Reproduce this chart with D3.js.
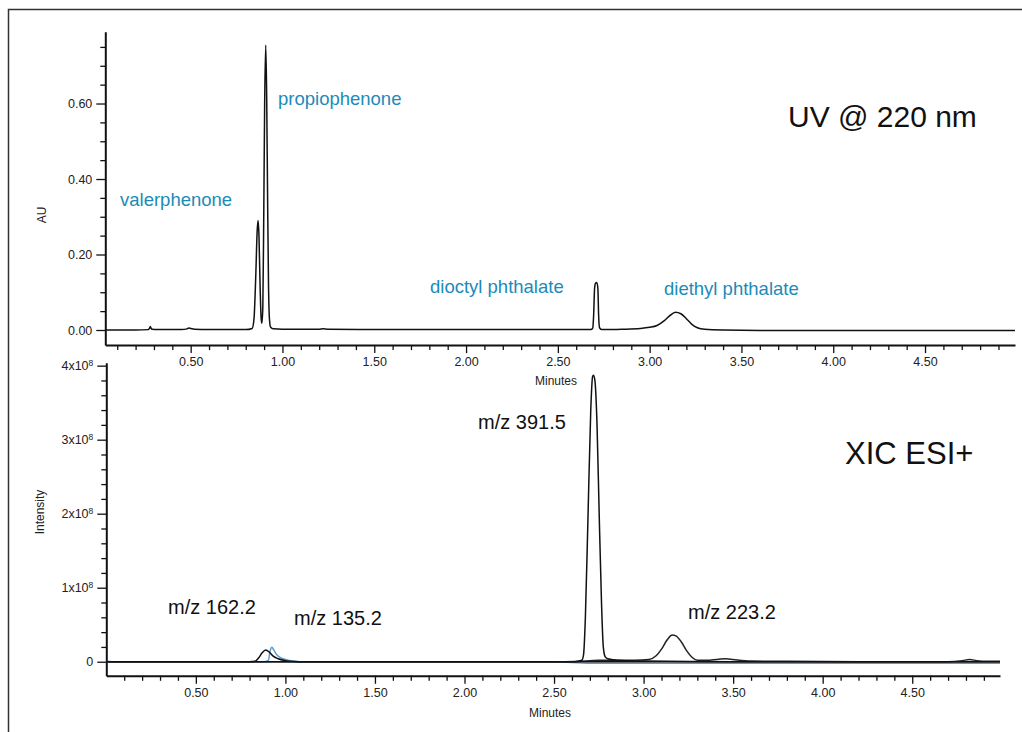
<!DOCTYPE html>
<html>
<head>
<meta charset="utf-8">
<script src="https://cdn.jsdelivr.net/npm/d3@7"></script>
<style>
  html, body { margin: 0; padding: 0; background: #fff; }
  svg { display: block; font-family: "Liberation Sans", Arial, sans-serif; }
  .tick text { fill: #222; font-size: 12.5px; }
  .axis path, .axis line { stroke: #111; }
</style>
</head>
<body>
<div id="chart"></div>
<script>
// UV trace, 220 nm (minutes / AU)
const uvTime = [0.035, 0.2, 0.27, 0.275, 0.28, 0.285, 0.29, 0.32, 0.45, 0.48, 0.49, 0.5, 0.52, 0.6, 0.8,
  0.835, 0.845, 0.855, 0.862, 0.867, 0.872, 0.878, 0.884, 0.888, 0.893, 0.898, 0.903, 0.909, 0.914, 0.919,
  0.924, 0.929, 0.935, 0.95, 1.0, 1.2, 1.22, 1.25, 1.5, 2.0, 2.5, 2.68, 2.69, 2.695, 2.7, 2.705, 2.712,
  2.718, 2.722, 2.727, 2.74, 2.85, 2.95, 3.0, 3.04, 3.08, 3.11, 3.14, 3.17, 3.2, 3.23, 3.26, 3.3, 3.4,
  3.6, 4.0, 4.5, 4.99];
const uvAU = [0, 0, 0.001, 0.004, 0.009, 0.004, 0.002, 0.001, 0.001, 0.003, 0.005, 0.004, 0.002, 0.001, 0.001,
  0.004, 0.03, 0.15, 0.26, 0.29, 0.25, 0.12, 0.03, 0.018, 0.06, 0.3, 0.6, 0.755, 0.62, 0.35,
  0.12, 0.03, 0.008, 0.003, 0.002, 0.002, 0.003, 0.002, 0.001, 0.001, 0.001, 0.001, 0.005, 0.04, 0.11, 0.124, 0.126,
  0.11, 0.04, 0.006, 0.001, 0.002, 0.004, 0.007, 0.012, 0.025, 0.038, 0.047, 0.043, 0.03, 0.015, 0.006, 0.002, 0,
  -0.001, -0.001, -0.001, -0.001];

// XIC ESI+ traces (minutes / intensity in units of 1e8)
const mz162Time = [0, 0.02, 0.5, 0.8, 0.83, 0.85, 0.87, 0.89, 0.91, 0.93, 0.96, 1.0, 1.05, 1.1, 2.0, 2.6, 3.0, 4.0, 4.99];
const mz162Int = [0.012, 0, 0, 0, 0.005, 0.05, 0.12, 0.158, 0.13, 0.08, 0.04, 0.015, 0.003, 0, 0, 0, 0, 0, 0];

const mz135Time = [0, 0.03, 0.5, 0.88, 0.905, 0.915, 0.925, 0.935, 0.95, 0.97, 1.0, 1.04, 1.08, 2.0, 2.5, 2.7, 3.0, 4.0, 4.99];
const mz135Int = [0.006, 0, 0, 0, 0.02, 0.15, 0.195, 0.16, 0.1, 0.06, 0.03, 0.01, 0, 0, 0, -0.02, -0.02, -0.02, -0.02];

const mz391Time = [0, 2.5, 2.62, 2.655, 2.665, 2.675, 2.69, 2.705, 2.715, 2.72, 2.728, 2.74, 2.752, 2.765, 2.775,
  2.785, 2.8, 2.85, 2.95, 3.0, 3.5, 4.99];
const mz391Int = [0, 0, 0.003, 0.02, 0.1, 0.6, 2.0, 3.4, 3.85, 3.87, 3.8, 3.2, 2.0, 0.8, 0.2,
  0.07, 0.04, 0.02, 0.01, 0.01, 0, 0];

const mz223Time = [0, 2.6, 2.75, 2.95, 3.03, 3.07, 3.1, 3.13, 3.16, 3.18, 3.21, 3.24, 3.27, 3.3, 3.35, 3.42, 3.46, 3.5,
  3.6, 3.8, 4.2, 4.7, 4.78, 4.82, 4.86, 4.92, 4.99];
const mz223Int = [0, 0, 0.02, 0.02, 0.03, 0.08, 0.17, 0.29, 0.36, 0.35, 0.27, 0.15, 0.06, 0.02, 0.02, 0.035, 0.04, 0.03,
  0.01, 0.005, 0, 0, 0.015, 0.03, 0.015, 0.005, 0.005];

// tick values and labels
const xMajor = [0.5, 1.0, 1.5, 2.0, 2.5, 3.0, 3.5, 4.0, 4.5];
const xMinor = [0.1, 0.2, 0.3, 0.4, 0.6, 0.7, 0.8, 0.9, 1.1, 1.2, 1.3, 1.4, 1.6, 1.7, 1.8, 1.9, 2.1, 2.2, 2.3, 2.4,
  2.6, 2.7, 2.8, 2.9, 3.1, 3.2, 3.3, 3.4, 3.6, 3.7, 3.8, 3.9, 4.1, 4.2, 4.3, 4.4, 4.6, 4.7, 4.8, 4.9];
const uvMajor = [0, 0.2, 0.4, 0.6];
const uvMinor = [0.05, 0.1, 0.15, 0.25, 0.3, 0.35, 0.45, 0.5, 0.55, 0.65, 0.7, 0.75];
const xicMajor = [0, 1, 2, 3, 4];
const xicMinor = [0.2, 0.4, 0.6, 0.8, 1.2, 1.4, 1.6, 1.8, 2.2, 2.4, 2.6, 2.8, 3.2, 3.4, 3.6, 3.8];

const uvLabels = [
  {text: 'valerphenone', x: 120, y: 206},
  {text: 'propiophenone', x: 278, y: 105},
  {text: 'dioctyl phthalate', x: 430, y: 293},
  {text: 'diethyl phthalate', x: 664, y: 295}
];
const xicLabels = [
  {text: 'm/z 391.5', x: 478, y: 429},
  {text: 'm/z 162.2', x: 168, y: 614},
  {text: 'm/z 135.2', x: 294, y: 625},
  {text: 'm/z 223.2', x: 688, y: 619}
];

const W = 1022, H = 732;
const svg = d3.select('#chart').append('svg').attr('width', W).attr('height', H);

// outer frame
svg.append('rect').attr('x', 8.5).attr('y', 9.5).attr('width', 1040).attr('height', 800)
  .attr('fill', 'none').attr('stroke', '#333').attr('stroke-width', 1.5);

const zip = (t, v) => t.map((d, i) => [d, v[i]]);

const drawPanel = (p) => {
  const g = svg.append('g');
  const x = d3.scaleLinear().domain(p.xDomain).range(p.xRange);
  const y = d3.scaleLinear().domain(p.yDomain).range(p.yRange);

  // x axis
  g.append('g').attr('class', 'axis')
    .attr('transform', `translate(0,${p.yRange[0]})`)
    .call(d3.axisBottom(x).tickValues(xMinor).tickSize(5).tickFormat('').tickSizeOuter(0))
    .call(a => a.select('.domain').remove())
    .selectAll('line').attr('stroke-width', 1.3);
  g.append('g').attr('class', 'axis')
    .attr('transform', `translate(0,${p.yRange[0]})`)
    .call(d3.axisBottom(x).tickValues(xMajor).tickSize(8).tickPadding(4).tickFormat(d3.format('.2f')).tickSizeOuter(0))
    .call(a => a.select('.domain').attr('stroke-width', 2))
    .selectAll('line').attr('stroke-width', 1.3);

  // y axis
  g.append('g').attr('class', 'axis')
    .attr('transform', `translate(${p.xRange[0]},0)`)
    .call(d3.axisLeft(y).tickValues(p.yMinor).tickSize(5).tickFormat('').tickSizeOuter(0))
    .call(a => a.select('.domain').remove())
    .selectAll('line').attr('stroke-width', 1.3);
  const ya = g.append('g').attr('class', 'axis')
    .attr('transform', `translate(${p.xRange[0]},0)`)
    .call(d3.axisLeft(y).tickValues(p.yMajor).tickSize(9).tickPadding(4).tickFormat(p.yFormat).tickSizeOuter(0));
  ya.select('.domain').attr('stroke-width', 2);
  ya.selectAll('line').attr('stroke-width', 1.3);
  if (p.sup) {
    ya.selectAll('.tick text').each(function(d) {
      if (d === 0) return;
      const t = d3.select(this).text(`${d}x10`);
      t.append('tspan').attr('font-size', '8.5px').attr('dy', '-0.45em').text('8');
    });
  }

  // axis titles
  g.append('text').attr('x', p.xTitle[0]).attr('y', p.xTitle[1])
    .attr('text-anchor', 'middle').attr('font-size', '12px').attr('fill', '#222').text('Minutes');
  g.append('text').attr('transform', `translate(${p.yTitle[0]},${p.yTitle[1]}) rotate(-90)`)
    .attr('text-anchor', 'middle').attr('font-size', '12px').attr('fill', '#222').text(p.yName);

  // traces
  const line = d3.line().x(d => x(d[0])).y(d => y(d[1])).curve(d3.curveMonotoneX);
  p.series.forEach(s => {
    g.append('path').datum(zip(s.t, s.v))
      .attr('fill', 'none').attr('stroke', s.color).attr('stroke-width', 1.5)
      .attr('stroke-linejoin', 'round').attr('d', line);
  });

  // annotations
  p.labels.forEach(l => {
    g.append('text').attr('x', l.x).attr('y', l.y)
      .attr('font-size', p.labelSize).attr('fill', p.labelColor).text(l.text);
  });
  g.append('text').attr('x', p.title[0]).attr('y', p.title[1])
    .attr('font-size', p.title[3]).attr('fill', '#111').text(p.title[2]);
};

drawPanel({
  xDomain: [0.035, 4.99], xRange: [105.3, 1015],
  yDomain: [-0.04, 0.79], yRange: [345.1, 31.8],
  yMajor: uvMajor, yMinor: uvMinor, yFormat: d3.format('.2f'),
  xTitle: [556, 385], yTitle: [46, 215], yName: 'AU',
  series: [{t: uvTime, v: uvAU, color: '#111'}],
  labels: uvLabels, labelSize: '18.5px', labelColor: '#1b8bb8',
  title: [788, 127, 'UV @ 220 nm', '30px']
});

drawPanel({
  xDomain: [0, 4.99], xRange: [106.3, 1000],
  yDomain: [-0.19, 4.04], yRange: [675.8, 362.7],
  yMajor: xicMajor, yMinor: xicMinor, yFormat: d3.format('d'), sup: true,
  xTitle: [550, 717], yTitle: [44, 512], yName: 'Intensity',
  series: [
    {t: mz135Time, v: mz135Int, color: '#5b9bd5'},
    {t: mz223Time, v: mz223Int, color: '#222'},
    {t: mz391Time, v: mz391Int, color: '#111'},
    {t: mz162Time, v: mz162Int, color: '#111'}
  ],
  labels: xicLabels, labelSize: '20px', labelColor: '#111',
  title: [845, 464, 'XIC ESI+', '31px']
});
</script>
</body>
</html>
